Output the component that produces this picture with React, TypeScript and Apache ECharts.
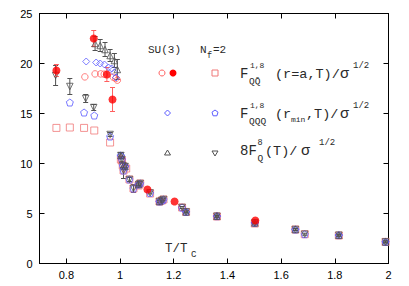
import React, { useEffect, useRef } from "react";
import * as echarts from "echarts";

// ---------- data ----------
// SU(3), filled red circles
const su3FilledX = [0.763, 0.902, 0.951, 0.972, 1.102, 1.203, 1.504];
const su3FilledY = [19.3, 22.5, 18.9, 16.4, 7.4, 6.2, 4.3];
const su3FilledErr = [0.6, 0.8, 0.7, 1.2, 0, 0, 0];

// SU(3), open red circles
const su3OpenX = [0.869, 0.907, 0.928, 0.941, 0.975, 0.984, 0.99, 1.007, 1.019, 1.069, 1.147, 1.231, 1.361, 1.502];
const su3OpenY = [18.66, 18.96, 18.96, 18.93, 18.63, 18.5, 18.33, 10.4, 9.7, 7.9, 6.2, 5.6, 4.73, 4.06];

// SU(3), blue diamonds
const su3DiamX = [0.874, 0.911, 0.926, 0.942, 0.957, 0.969, 0.979, 0.985, 1.003, 1.019, 1.069, 1.147, 1.246, 1.361, 1.502, 1.653, 1.815, 1.989];
const su3DiamY = [20.2, 20.1, 20.0, 19.9, 19.6, 19.5, 19.1, 18.6, 10.8, 9.7, 7.9, 6.2, 5.16, 4.73, 4.06, 3.4, 2.83, 2.16];

// SU(3), gray up-triangles
const su3TriX = [0.907, 0.926, 0.944, 0.963, 0.979, 0.99, 1.003, 1.019, 1.069, 1.147, 1.246, 1.361, 1.502, 1.653, 1.815, 1.989];
const su3TriY = [22.0, 21.8, 21.4, 20.8, 20.3, 19.4, 10.8, 9.7, 7.9, 6.2, 5.16, 4.73, 4.06, 3.4, 2.83, 2.16];
const su3TriErr = [0.7, 0.6, 0.7, 0.6, 0.7, 1.0, 0.3, 0.3, 0.2, 0.1, 0.1, 0.1, 0.1, 0.1, 0.1, 0.1];

// Nf=2 values (below and above Tc)
const nfSqX = [0.763, 0.813, 0.866, 0.904, 0.963, 1.003, 1.007, 1.01, 1.013, 1.023, 1.035, 1.05, 1.069, 1.075, 1.112, 1.147, 1.156, 1.162, 1.231, 1.246, 1.361, 1.502, 1.653, 1.688, 1.815, 1.989];
const nfSqY = [13.56, 13.6, 13.56, 13.3, 12.1, 10.4, 10.3, 9.8, 9.3, 9.5, 8.4, 7.5, 7.8, 8.0, 7.0, 6.2, 6.3, 6.4, 5.6, 5.16, 4.7, 4.0, 3.4, 2.93, 2.8, 2.16];

const nfPentX = [0.813, 0.866, 0.904, 0.963, 1.003, 1.007, 1.01, 1.013, 1.019, 1.035, 1.05, 1.069, 1.075, 1.112, 1.147, 1.156, 1.162, 1.231, 1.246, 1.361, 1.502, 1.653, 1.688, 1.815, 1.989];
const nfPentY = [16.1, 15.1, 14.8, 12.7, 10.8, 10.4, 9.8, 9.3, 9.7, 8.4, 7.5, 7.9, 8.0, 7.06, 6.2, 6.3, 6.4, 5.6, 5.16, 4.73, 4.06, 3.4, 2.93, 2.83, 2.16];

const nfTriX = [0.76, 0.813, 0.872, 0.902, 0.963, 1.003, 1.007, 1.01, 1.013, 1.019, 1.035, 1.05, 1.069, 1.075, 1.112, 1.147, 1.156, 1.162, 1.231, 1.246, 1.361, 1.502, 1.653, 1.688, 1.815, 1.989];
const nfTriY = [18.8, 17.7, 16.5, 15.6, 12.9, 10.8, 10.4, 9.8, 9.3, 9.7, 8.4, 7.5, 7.9, 8.0, 7.06, 6.2, 6.3, 6.4, 5.6, 5.16, 4.73, 4.06, 3.4, 2.93, 2.83, 2.16];
const nfTriErr = [1.0, 0.8, 0.4, 0.3, 0.2, 0.3, 0.2, 0.2, 0.8, 0.2, 0.2, 0.4, 0.2, 0.2, 0.1, 0.1, 0.1, 0.1, 0.1, 0.1, 0.1, 0.1, 0.1, 0.1, 0.1, 0.1];

const xTicks = [0.8, 1, 1.2, 1.4, 1.6, 1.8, 2];

// ---------- styles ----------
const RED = "#ff0000";
const LRED = "#ff5f5f";
const PINK = "#f07878";
const BLUE = "#5a5aff";
const GRAY = "#505050";
const MONO = "Liberation Mono";
const SANS = "Liberation Sans";
const PENT = "path://M50,0 L97.6,34.5 L79.4,90.5 L20.6,90.5 L2.4,34.5 Z";

const pts = (xs: number[], ys: number[]) => xs.map((x, i) => [x, ys[i]]);
const errs = (xs: number[], ys: number[], es: number[]) =>
  xs.map((x, i) => [x, ys[i] - es[i], ys[i] + es[i]]).filter((d, i) => es[i] > 0);

function errSeries(data: number[][], color: string) {
  return {
    type: "custom",
    xAxisIndex: 0,
    yAxisIndex: 0,
    data,
    encode: { x: 0, y: [1, 2] },
    silent: true,
    z: 1,
    renderItem: (params: any, api: any) => {
      const a = api.coord([api.value(0), api.value(1)]);
      const b = api.coord([api.value(0), api.value(2)]);
      const w = 2.5;
      const st = { stroke: color, lineWidth: 1 };
      return {
        type: "group",
        children: [
          { type: "line", shape: { x1: a[0], y1: a[1], x2: b[0], y2: b[1] }, style: st },
          { type: "line", shape: { x1: a[0] - w, y1: a[1], x2: a[0] + w, y2: a[1] }, style: st },
          { type: "line", shape: { x1: b[0] - w, y1: b[1], x2: b[0] + w, y2: b[1] }, style: st },
        ],
      };
    },
  };
}

function scatter(data: number[][], symbol: string, size: number, color: string, filled: boolean, rotate = 0, z = 2) {
  return {
    type: "scatter",
    data,
    symbol,
    symbolSize: size,
    symbolRotate: rotate,
    z,
    itemStyle: filled
      ? { color, borderWidth: 0 }
      : { color: "rgba(0,0,0,0)", borderColor: color, borderWidth: 1 },
  };
}

function txt(x: number, y: number, text: string, size: number, extra: any = {}) {
  return {
    type: "text",
    x,
    y,
    style: {
      text,
      font: `${size}px '${MONO}'`,
      fill: "#2a2a2a",
      textVerticalAlign: "middle",
      textAlign: "left",
      ...extra,
    },
  };
}

export default function App() {
  const ref = useRef<HTMLDivElement>(null);
  useEffect(() => {
    const chart = echarts.init(ref.current!, null, { renderer: "svg" });
    const axisCommon = {
      type: "value",
      axisLine: { show: true, onZero: false, lineStyle: { color: "#000", width: 1 } },
      splitLine: { show: false },
    };
    const legend: any[] = [
      txt(148, 50, "SU(3)", 11),
      txt(200, 50, "N", 11),
      txt(207, 55.5, "f", 8.5),
      txt(213, 50, "=2", 11),
      // row 1
      { type: "circle", shape: { cx: 162, cy: 73, r: 3 }, style: { fill: "none", stroke: LRED, lineWidth: 1 } },
      { type: "circle", shape: { cx: 173, cy: 73, r: 3.5 }, style: { fill: RED } },
      { type: "rect", shape: { x: 212, y: 70, width: 6, height: 6 }, style: { fill: "none", stroke: PINK, lineWidth: 1 } },
      txt(240, 74, "F", 14),
      txt(250, 65.5, "1,8", 8),
      txt(249, 81.5, "QQ\u0304", 9.5),
      txt(275, 74, "(r=a,T)/", 13.5),
      txt(340, 74, "\u03c3", 15),
      txt(353, 65.5, "1/2", 9),
      // row 2
      { type: "polygon", shape: { points: [[167.5, 110], [170.5, 113], [167.5, 116], [164.5, 113]] }, style: { fill: "none", stroke: BLUE, lineWidth: 1 } },
      { type: "polygon", shape: { points: [[215, 110], [218, 112.2], [216.9, 115.8], [213.1, 115.8], [212, 112.2]] }, style: { fill: "none", stroke: BLUE, lineWidth: 1 } },
      txt(240, 114, "F", 14),
      txt(250, 105.5, "1,8", 8),
      txt(249, 121.5, "QQQ", 9.5),
      txt(275, 114, "(r", 13.5),
      txt(291, 119.5, "min", 8),
      txt(306, 114, ",T)/", 13.5),
      txt(340, 114, "\u03c3", 15),
      txt(353, 105.5, "1/2", 9),
      // row 3
      { type: "polygon", shape: { points: [[167.5, 150], [170.5, 155], [164.5, 155]] }, style: { fill: "none", stroke: GRAY, lineWidth: 1 } },
      { type: "polygon", shape: { points: [[215, 156], [218, 151], [212, 151]] }, style: { fill: "none", stroke: GRAY, lineWidth: 1 } },
      txt(240, 151, "8F", 14),
      txt(257.5, 142.5, "8", 8.5),
      txt(257.5, 158.5, "Q", 9.5),
      txt(265, 151, "(T)/", 13.5),
      txt(301, 151, "\u03c3", 15),
      txt(319, 142.5, "1/2", 9),
      // axis title
      txt(165, 249, "T/T", 12.5),
      txt(191, 255, "C", 9),
    ];
    chart.setOption({
      animation: false,
      grid: { left: 39.5, right: 20.5, top: 13.5, bottom: 22.5, containLabel: false },
      xAxis: [
        {
          ...axisCommon,
          position: "bottom",
          min: 0.7,
          max: 2.0,
          axisTick: { show: true, inside: true, length: 5, lineStyle: { color: "#000" }, customValues: xTicks },
          axisLabel: { show: true, customValues: xTicks, fontFamily: SANS, fontSize: 11, color: "#000", margin: 6 },
        },
        {
          ...axisCommon,
          position: "top",
          min: 0.7,
          max: 2.0,
          axisTick: { show: true, inside: true, length: 5, lineStyle: { color: "#000" }, customValues: xTicks },
          axisLabel: { show: false },
        },
      ],
      yAxis: [
        {
          ...axisCommon,
          position: "left",
          min: 0,
          max: 25,
          interval: 5,
          axisTick: { show: true, inside: true, length: 5, lineStyle: { color: "#000" } },
          axisLabel: { show: true, fontFamily: SANS, fontSize: 11, color: "#000", margin: 7 },
        },
        {
          ...axisCommon,
          position: "right",
          min: 0,
          max: 25,
          interval: 5,
          axisTick: { show: true, inside: true, length: 5, lineStyle: { color: "#000" } },
          axisLabel: { show: false },
        },
      ],
      series: [
        errSeries(errs(nfTriX, nfTriY, nfTriErr), GRAY),
        errSeries(errs(su3TriX, su3TriY, su3TriErr), GRAY),
        errSeries(errs(su3FilledX, su3FilledY, su3FilledErr), LRED),
        scatter(pts(nfSqX, nfSqY), "rect", 7, PINK, false, 0, 2),
        scatter(pts(su3OpenX, su3OpenY), "circle", 6.5, LRED, false, 0, 3),
        scatter(pts(nfPentX, nfPentY), PENT, 7, BLUE, false, 0, 4),
        scatter(pts(su3DiamX, su3DiamY), "diamond", 7, BLUE, false, 0, 4),
        scatter(pts(su3TriX, su3TriY), "triangle", 6.5, GRAY, false, 0, 5),
        scatter(pts(nfTriX, nfTriY), "triangle", 6.5, GRAY, false, 180, 5),
        scatter(pts(su3FilledX, su3FilledY), "circle", 8, RED, true, 0, 6),
      ],
      graphic: legend,
    });
    return () => chart.dispose();
  }, []);
  return <div ref={ref} style={{ position: "absolute", left: 0, top: 0, width: 409, height: 286 }} />;
}
